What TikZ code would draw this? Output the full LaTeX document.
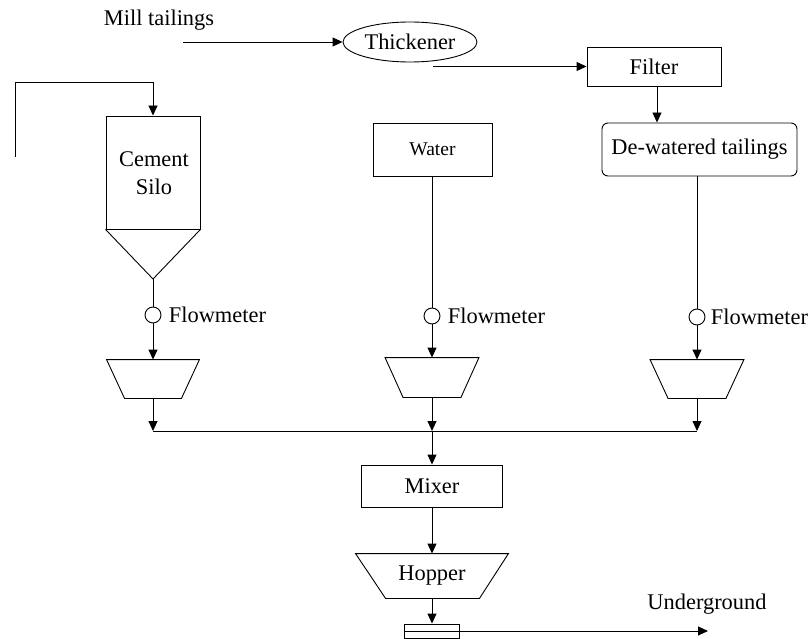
\documentclass[tikz,border=0pt]{standalone}
\usepackage{fontspec}
\setmainfont{Liberation Serif}
\usetikzlibrary{arrows.meta,shapes.geometric}
\begin{document}
\begin{tikzpicture}[x=1pt,y=-1pt,
  line width=0.9pt,
  every node/.style={font=\fontsize{22.4}{28}\selectfont},
  box/.style={draw, rectangle, inner sep=0pt},
  ghost/.style={rectangle, inner sep=0pt},
  arr/.style={-{Triangle[length=10pt,width=9pt]}},
  fm/.style={draw, circle, minimum size=16pt, inner sep=0pt},
  fmlabel/.style={anchor=west, inner sep=2pt},
]
\useasboundingbox (0,0) rectangle (809,639);

% top row
\node (mill) at (159,20) {Mill tailings};
\coordinate (millstart) at (183,42);
\node[draw, ellipse, minimum width=134pt, minimum height=40pt, inner sep=0pt] (thick) at (410,42) {Thickener};
\node[box, minimum width=134pt, minimum height=39pt] (filter) at (654,66.5) {Filter};
\node[box, rounded corners=6pt, minimum width=195pt, minimum height=53pt] (dew) at (699.5,149.5) {De-watered tailings};
\node[box, minimum width=119pt, minimum height=53pt, font=\fontsize{19.5}{21}\selectfont] (water) at (432.5,149.5) {Water};

\draw[arr] (millstart) -- (thick.west);
\coordinate (tf) at ([xshift=23pt]thick.south);
\draw[arr] (tf |- filter.west) -- (filter.west);
\draw[arr] (filter.south -| 657,0) -- (dew.north -| 657,0);

% cement silo
\node[box, minimum width=94pt, minimum height=113pt] (silo) at (153,172.5) {};
\node[align=center] (silotext) at (154,173) {Cement\\Silo};
\coordinate (apex) at (153,279);
\draw (silo.south west) -- (apex) -- (silo.south east);
\coordinate (feedA) at (15,157);
\draw[arr] (feedA) |- ([yshift=33pt]silo.north) -- (silo.north);

% flowmeters
\node[fm] (fm1) at (153,315) {};
\node[fm] (fm2) at (432,316) {};
\node[fm] (fm3) at (697,317) {};
\node[fmlabel] (fl1) at ([xshift=5pt]fm1.east) {Flowmeter};
\node[fmlabel] (fl2) at ([xshift=5pt]fm2.east) {Flowmeter};
\node[fmlabel] (fl3) at ([xshift=3pt]fm3.east) {Flowmeter};

\draw (apex) -- (fm1);
\draw (water.south -| fm2) -- (fm2);
\draw (dew.south -| fm3) -- (fm3);

% feeders (trapezoids)
\node[ghost, minimum width=92pt, minimum height=38pt] (t1) at (153,379) {};
\node[ghost, minimum width=93pt, minimum height=39pt] (t2) at (432,377.5) {};
\node[ghost, minimum width=93pt, minimum height=38pt] (t3) at (697,379) {};
\foreach \t in {t1,t2,t3}{
  \draw (\t.north west) -- (\t.north east) -- ([xshift=-18pt]\t.south east) -- ([xshift=18pt]\t.south west) -- cycle;
}
\draw[arr] (fm1) -- (t1);
\draw[arr] (fm2) -- (t2);
\draw[arr] (fm3) -- (t3);

% collecting line
\coordinate (b1) at (153,431);
\coordinate (b2) at (432,431);
\coordinate (b3) at (697,431);
\draw (b1) -- (b3);
\draw[arr] (t1.south) -- (b1);
\draw[arr] (t2.south) -- (b2);
\draw[arr] (t3.south) -- (b3);

% mixer, hopper, pump
\node[box, minimum width=141pt, minimum height=42pt] (mixer) at (432,486) {Mixer};
\draw[arr] (b2) -- (mixer);
\node[ghost, minimum width=152pt, minimum height=44pt] (hop) at (432,576) {Hopper};
\draw (hop.north west) -- (hop.north east) -- ([xshift=-29pt]hop.south east) -- ([xshift=30pt]hop.south west) -- cycle;
\draw[arr] (mixer) -- (hop);
\node[box, minimum width=55pt, minimum height=14pt] (pump) at (432,631) {};
\draw (pump.west) -- (pump.east);
\draw[arr] (hop.south) -- (pump.north);
\coordinate (ug) at (708,631);
\draw[arr] (pump.east) -- (ug);
\node (ugtext) at (707,604) {Underground};
\end{tikzpicture}
\end{document}
